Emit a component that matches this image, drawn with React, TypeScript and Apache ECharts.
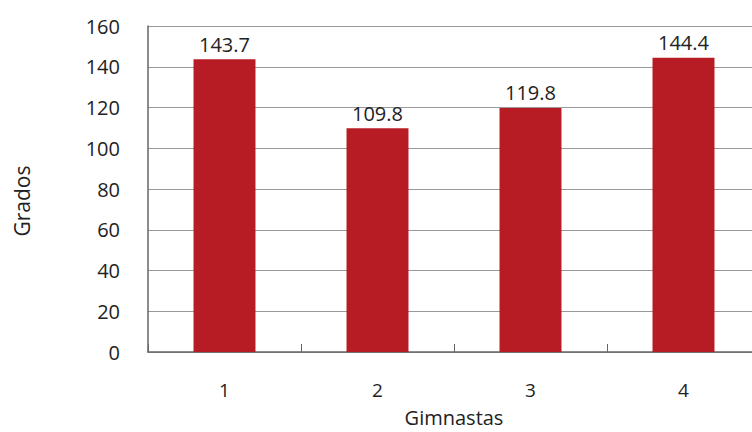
import React, { useEffect, useRef } from "react";
import * as echarts from "echarts";

const categories = ["1", "2", "3", "4"];
const values = [143.7, 109.8, 119.8, 144.4];
const yTicks = { min: 0, max: 160, interval: 20 };
const xName = "Gimnastas";
const yName = "Grados";

const FONT = "'Open Sans', 'Noto Sans', sans-serif";

export default function App() {
  const ref = useRef<HTMLDivElement>(null);
  useEffect(() => {
    if (!ref.current) return;
    const chart = echarts.init(ref.current, undefined, { renderer: "svg" });
    chart.setOption({
      animation: false,
      backgroundColor: "#ffffff",
      grid: { left: 148, width: 612, top: 26, bottom: 80, containLabel: false, outerBoundsMode: "none" },
      xAxis: {
        type: "category",
        data: categories,
        name: xName,
        nameLocation: "middle",
        nameGap: 55,
        nameTextStyle: { fontFamily: FONT, fontSize: 20, lineHeight: 20, color: "#222" },
        axisLine: { lineStyle: { color: "#666", width: 1.5 } },
        axisTick: { show: true, inside: true, length: 8, lineStyle: { color: "#666" } },
        axisLabel: { fontFamily: FONT, fontSize: 19, color: "#222", margin: 28 },
        splitLine: { show: false },
      },
      yAxis: {
        type: "value",
        min: yTicks.min,
        max: yTicks.max,
        interval: yTicks.interval,
        name: yName,
        nameLocation: "middle",
        nameRotate: 90,
        nameGap: 116,
        nameTextStyle: { fontFamily: FONT, fontSize: 21, color: "#222", padding: [0, 24, 0, 0] },
        axisLine: { show: true, lineStyle: { color: "#666", width: 1.5 } },
        axisTick: { show: false },
        axisLabel: { fontFamily: FONT, fontSize: 20, color: "#222", margin: 28 },
        splitLine: { show: true, lineStyle: { color: "#999", width: 1.2 } },
      },
      series: [
        {
          type: "bar",
          data: values,
          barWidth: "40.5%",
          itemStyle: { color: "#B71C25" },
          label: {
            show: true,
            position: "top",
            distance: 5,
            fontFamily: FONT,
            fontSize: 20,
            color: "#222",
            formatter: (p: any) => p.value.toFixed(1),
          },
        },
      ],
    });
    return () => chart.dispose();
  }, []);
  return <div ref={ref} style={{ width: 752, height: 432, position: "fixed", left: 0, top: 0 }} />;
}
